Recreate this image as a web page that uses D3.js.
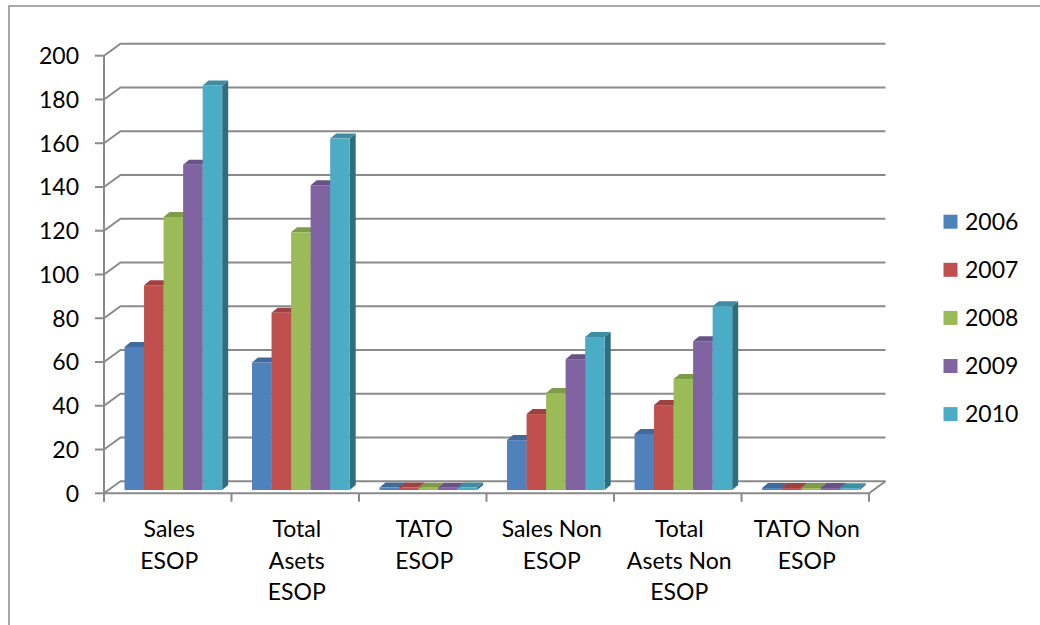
<!DOCTYPE html>
<html><head><meta charset="utf-8">
<script src="https://cdn.jsdelivr.net/npm/d3@7"></script>
<style>html,body{margin:0;padding:0;background:#fff}svg{display:block}</style>
</head><body>
<script>
const categories = ["Sales ESOP","Total Asets ESOP","TATO ESOP","Sales Non ESOP","Total Asets Non ESOP","TATO Non ESOP"];
const categoryLines = [["Sales","ESOP"],["Total","Asets","ESOP"],["TATO","ESOP"],["Sales Non","ESOP"],["Total","Asets Non","ESOP"],["TATO Non","ESOP"]];
const seriesNames = ["2006","2007","2008","2009","2010"];
const seriesColors = ["#4F81BD","#C0504D","#9BBB59","#8064A2","#4BACC6"];
const v2006 = [65.4, 58.3, 1.12, 22.8, 25.6, 0.89];
const v2007 = [93.6, 81.0, 1.16, 34.7, 38.8, 0.89];
const v2008 = [124.8, 117.8, 1.06, 44.3, 50.7, 0.87];
const v2009 = [148.7, 139.3, 1.07, 59.8, 68.0, 0.88];
const v2010 = [184.9, 160.6, 1.15, 69.9, 84.0, 0.83];
const yTicks = [0,20,40,60,80,100,120,140,160,180,200];

const seriesValues = [v2006, v2007, v2008, v2009, v2010];
const W = 1040, H = 625;
const FONT = "Lato, 'Open Sans', sans-serif";
const GRID = "#8a8a8a";
const DX = 16.5, DY = -12;      // wall depth offset
const BDX = 6, BDY = -5;        // bar depth offset

const svg = d3.select("body").append("svg").attr("width", W).attr("height", H);

// outer chart border (only top and left are inside the picture)
svg.append("rect").attr("x", 9).attr("y", 6).attr("width", 1200).attr("height", 800)
  .attr("fill", "none").attr("stroke", GRID).attr("stroke-width", 1.5);

const x0 = d3.scaleBand().domain(categories).range([104, 869]).padding(0);
const bw = x0.bandwidth();
const x1 = d3.scaleBand().domain(seriesNames).range([bw*0.161, bw*0.161 + bw*0.766]).padding(0);
const yFront = d3.scaleLinear().domain([0,200]).range([493.3, 55.7]);
const yBar = d3.scaleLinear().domain([0,200]).range([490, 52.4]);

// gridlines (side wall diagonal + back wall)
const xL = x0.range()[0], xR = x0.range()[1];
svg.append("g").selectAll("path").data(yTicks).join("path")
  .attr("d", t => `M${xL},${yFront(t)} L${xL+DX},${yFront(t)+DY} L${xR+DX},${yFront(t)+DY}`)
  .attr("fill","none").attr("stroke",GRID).attr("stroke-width",2);

// floor front edge & right edge
svg.append("path")
  .attr("d", `M${xL},${yFront(0)} L${xR},${yFront(0)} L${xR+DX},${yFront(0)+DY}`)
  .attr("fill","none").attr("stroke",GRID).attr("stroke-width",2);

// vertical axis
svg.append("line").attr("x1",xL).attr("x2",xL).attr("y1",yFront(200)).attr("y2",yFront(0)+8.5)
  .attr("stroke",GRID).attr("stroke-width",2);

// y ticks + labels
const yAx = svg.append("g");
yAx.selectAll("line").data(yTicks).join("line")
  .attr("x1", xL-9).attr("x2", xL).attr("y1", d=>yFront(d)).attr("y2", d=>yFront(d))
  .attr("stroke",GRID).attr("stroke-width",2);
yAx.selectAll("text").data(yTicks).join("text")
  .attr("x", 79).attr("y", d=>yFront(d)).attr("dy","0.36em")
  .attr("text-anchor","end").attr("font-family",FONT).attr("font-size",23).attr("fill","#000")
  .text(d=>d);

// category ticks
const catBounds = categories.map(c => x0(c)).concat([xR]);
svg.append("g").selectAll("line").data(catBounds).join("line")
  .attr("x1", d=>d).attr("x2", d=>d).attr("y1", yFront(0)).attr("y2", yFront(0)+8.5)
  .attr("stroke",GRID).attr("stroke-width",2);

// bars
const barsG = svg.append("g");
categories.forEach((c, ci) => {
  seriesNames.forEach((s, si) => {
    const v = seriesValues[si][ci];
    const x = x0(c) + x1(s), w = x1.bandwidth();
    const yt = yBar(v), yb = yBar(0);
    const col = d3.color(seriesColors[si]);
    const g = barsG.append("g");
    // side face
    g.append("path").attr("d",
      `M${x+w},${yb} L${x+w+BDX},${yb+BDY} L${x+w+BDX},${yt+BDY} L${x+w},${yt} Z`)
      .attr("fill", col.darker(1.25).formatHex());
    // top face
    g.append("path").attr("d",
      `M${x},${yt} L${x+BDX},${yt+BDY} L${x+w+BDX},${yt+BDY} L${x+w},${yt} Z`)
      .attr("fill", col.darker(0.55).formatHex());
    // front face
    g.append("rect").attr("x", x).attr("y", yt).attr("width", w).attr("height", yb-yt)
      .attr("fill", col.formatHex());
  });
});

// category labels
const catG = svg.append("g");
categories.forEach((c, ci) => {
  const t = catG.append("text").attr("x", x0(c) + bw/2 + 1.5).attr("y", 537)
    .attr("text-anchor","middle").attr("font-family",FONT).attr("font-size",23).attr("fill","#000");
  categoryLines[ci].forEach((ln, li) => {
    t.append("tspan").attr("x", x0(c) + bw/2 + 1.5).attr("y", 537 + li*31.5).text(ln);
  });
});

// legend
const lg = svg.append("g");
seriesNames.forEach((s, i) => {
  const cy = 221.7 + i*48.1;
  lg.append("rect").attr("x",943.5).attr("y",cy-7).attr("width",14).attr("height",14).attr("fill",seriesColors[i]);
  lg.append("text").attr("x",965).attr("y",cy).attr("dy","0.36em")
    .attr("font-family",FONT).attr("font-size",23).attr("fill","#000").text(s);
});
</script>
</body></html>
